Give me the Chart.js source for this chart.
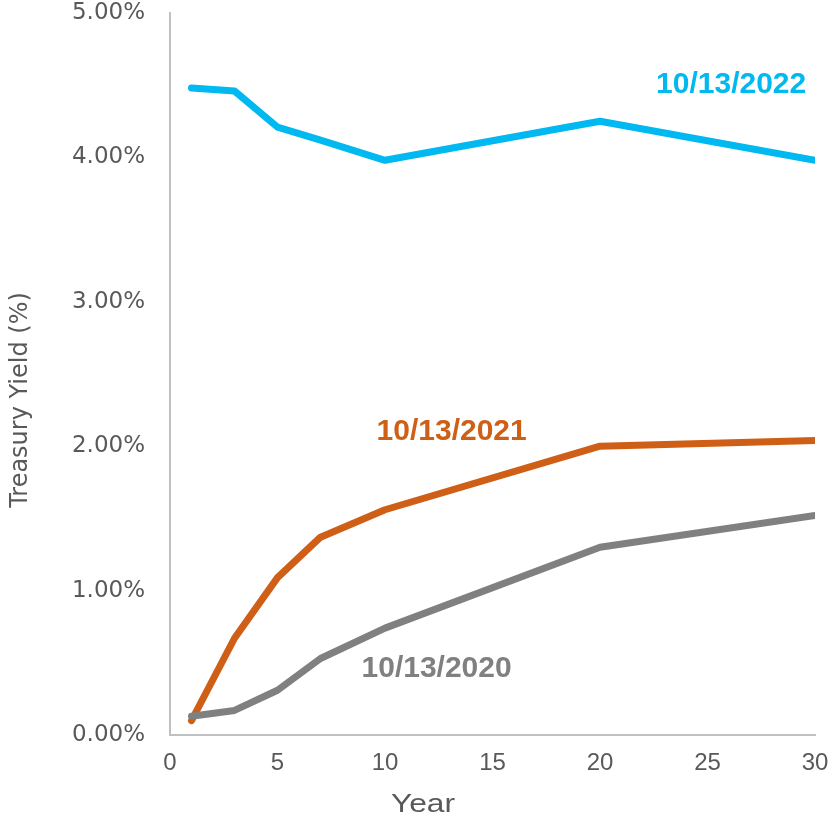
<!DOCTYPE html>
<html>
<head>
<meta charset="utf-8">
<script src="https://cdn.jsdelivr.net/npm/chart.js@4/dist/chart.umd.min.js"></script>
<style>
  html, body { margin: 0; padding: 0; background: #ffffff; }
  #wrap { width: 831px; height: 818px; }
</style>
</head>
<body>
<div id="wrap"><canvas id="curve" width="831" height="818"></canvas></div>
<script>
// Treasury maturities in years
const maturities = [1, 3, 5, 7, 10, 20, 30];

// Yield curves (%) for each date
const yields2022 = [4.48, 4.46, 4.21, 4.12, 3.98, 4.25, 3.98];
const yields2021 = [0.10, 0.67, 1.09, 1.37, 1.56, 2.00, 2.04];
const yields2020 = [0.13, 0.17, 0.31, 0.53, 0.74, 1.30, 1.52];

const seriesNames = ['10/13/2022', '10/13/2021', '10/13/2020'];
const seriesColors = ['#00b9f0', '#cf5f16', '#808080'];

// Where each curve's name sits, in data units (year, yield)
const nameAnchors = [[26.1, 4.50], [13.1, 2.10], [12.4, 0.46]];

const xTicks = [0, 5, 10, 15, 20, 25, 30];
const yTicks = [0, 1, 2, 3, 4, 5];
const xTitle = 'Year';
const yTitle = 'Treasury Yield (%)';

const toPoints = (vals) => maturities.map((m, i) => ({ x: m, y: vals[i] }));

const allSeries = [yields2022, yields2021, yields2020];

const curveNames = {
  id: 'curveNames',
  afterDatasetsDraw(chart) {
    const { ctx, scales } = chart;
    ctx.save();
    ctx.font = 'bold 30px "Liberation Sans", Arial, sans-serif';
    ctx.textAlign = 'center';
    ctx.textBaseline = 'middle';
    seriesNames.forEach((name, i) => {
      const [ax, ay] = nameAnchors[i];
      ctx.fillStyle = seriesColors[i];
      ctx.fillText(name, scales.x.getPixelForValue(ax), scales.y.getPixelForValue(ay));
    });
    ctx.restore();
  }
};

const axisTitles = {
  id: 'axisTitles',
  afterDraw(chart) {
    const { ctx } = chart;
    ctx.save();
    ctx.fillStyle = '#595959';
    ctx.textAlign = 'center';
    ctx.textBaseline = 'middle';
    // x title, set slightly wide
    ctx.save();
    ctx.translate(423, 805);
    ctx.scale(1.27, 1);
    ctx.font = '25px "Liberation Sans", Arial, sans-serif';
    ctx.fillText(xTitle, 0, 0);
    ctx.restore();
    // y title, rotated
    ctx.translate(21, 400);
    ctx.rotate(-Math.PI / 2);
    ctx.font = '24px "DejaVu Sans", sans-serif';
    ctx.fillText(yTitle, 0, 0);
    ctx.restore();
  }
};

new Chart(document.getElementById('curve'), {
  type: 'line',
  data: {
    datasets: allSeries.map((vals, i) => ({
      label: seriesNames[i],
      data: toPoints(vals),
      borderColor: seriesColors[i],
      backgroundColor: seriesColors[i],
      borderWidth: 7,
      borderJoinStyle: 'round',
      borderCapStyle: 'round',
      pointRadius: 0,
      tension: 0,
      fill: false
    })).reverse()
  },
  options: {
    responsive: false,
    animation: false,
    layout: { padding: { top: 13, right: 16, left: 0, bottom: 0 } },
    plugins: {
      legend: { display: false },
      tooltip: { enabled: false }
    },
    scales: {
      x: {
        type: 'linear',
        min: 0,
        max: 30,
        afterBuildTicks: (s) => { s.ticks = xTicks.map(v => ({ value: v })); },
        afterFit: (s) => { s.height = 83; s.paddingLeft = 0; s.paddingRight = 0; },
        grid: { display: false, drawTicks: false },
        border: { display: true, color: '#c0c0c0', width: 2 },
        ticks: {
          color: '#595959',
          padding: 14,
          maxRotation: 0,
          font: { family: '"Liberation Sans", Arial, sans-serif', size: 24 }
        }
      },
      y: {
        min: 0,
        max: 5,
        afterBuildTicks: (s) => { s.ticks = yTicks.map(v => ({ value: v })); },
        afterFit: (s) => { s.width = 170; s.paddingTop = 0; s.paddingBottom = 0; },
        grid: { display: false, drawTicks: false },
        border: { display: true, color: '#c0c0c0', width: 2 },
        ticks: {
          color: '#595959',
          padding: 25,
          font: { family: '"DejaVu Sans", sans-serif', size: 23 },
          callback: (v) => v.toFixed(2) + '%'
        }
      }
    }
  },
  plugins: [curveNames, axisTitles]
});
</script>
</body>
</html>
